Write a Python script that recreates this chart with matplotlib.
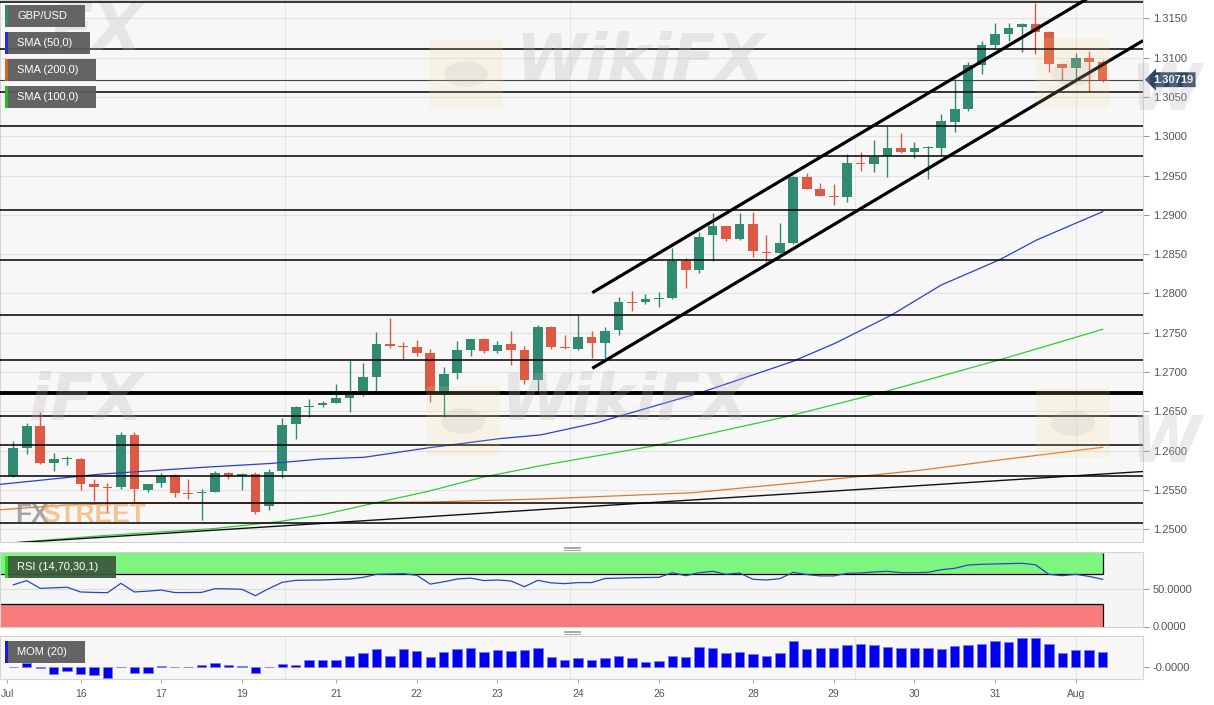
import matplotlib
matplotlib.use("Agg")
import matplotlib.pyplot as plt
from matplotlib.patches import Rectangle, FancyBboxPatch
from matplotlib.lines import Line2D
import matplotlib.transforms as mtransforms
import numpy as np

plt.rcParams['font.family'] = ['Liberation Sans', 'DejaVu Sans']

# ---------------- data (4h candles, GBP/USD) ----------------
opens = [1.25677, 1.26037, 1.26317, 1.25846, 1.25889, 1.25893, 1.25575, 1.25541, 1.25533, 1.26199,
         1.25499, 1.25584, 1.25690, 1.25461, 1.25461, 1.25477, 1.25719, 1.25677, 1.25702, 1.25295,
         1.25744, 1.26338, 1.26559, 1.26576, 1.26609, 1.26665, 1.26749, 1.26933, 1.27353, 1.27335,
         1.27322, 1.27238, 1.26729, 1.26984, 1.27280, 1.27416, 1.27271, 1.27353, 1.27280, 1.26898,
         1.27576, 1.27322, 1.27293, 1.27449, 1.27373, 1.27534, 1.27894, 1.27887, 1.27929, 1.27945,
         1.28412, 1.28298, 1.28737, 1.28854, 1.28692, 1.28879, 1.28531, 1.28510, 1.28638, 1.29485,
         1.29325, 1.29239, 1.29223, 1.29663, 1.29646, 1.29748, 1.29856, 1.29793, 1.29850, 1.29856,
         1.30185, 1.30346, 1.30906, 1.31161, 1.31300, 1.31393, 1.31428, 1.31330, 1.30915, 1.30872,
         1.30999, 1.30940]
highs = [1.26126, 1.26355, 1.26487, 1.25966, 1.25931, 1.25906, 1.25635, 1.25592, 1.26241, 1.26233,
         1.25581, 1.25711, 1.25696, 1.25635, 1.25508, 1.25741, 1.25732, 1.25711, 1.25728, 1.25766,
         1.26411, 1.26568, 1.26653, 1.26631, 1.26844, 1.27162, 1.27111, 1.27513, 1.27683, 1.27386,
         1.27407, 1.27289, 1.27068, 1.27398, 1.27426, 1.27429, 1.27398, 1.27526, 1.27335, 1.27598,
         1.27585, 1.27467, 1.27725, 1.27526, 1.27569, 1.27950, 1.28034, 1.27989, 1.28014, 1.28581,
         1.28454, 1.28777, 1.29029, 1.28861, 1.29027, 1.29040, 1.28743, 1.28892, 1.29494, 1.29528,
         1.29401, 1.29388, 1.29770, 1.29795, 1.29952, 1.30134, 1.30047, 1.29920, 1.29875, 1.30279,
         1.30728, 1.30948, 1.31211, 1.31437, 1.31444, 1.31444, 1.31699, 1.31339, 1.30922, 1.31062,
         1.31084, 1.30970]
lows = [1.25668, 1.25957, 1.25830, 1.25744, 1.25817, 1.25499, 1.25363, 1.25202, 1.25508, 1.25350,
        1.25473, 1.25541, 1.25406, 1.25380, 1.25117, 1.25467, 1.25635, 1.25499, 1.25193, 1.25244,
        1.25648, 1.26144, 1.26424, 1.26551, 1.26602, 1.26495, 1.26695, 1.26749, 1.27309, 1.27162,
        1.27204, 1.26622, 1.26431, 1.26915, 1.27207, 1.27238, 1.27238, 1.27089, 1.26847, 1.26729,
        1.27293, 1.27293, 1.27286, 1.27182, 1.27174, 1.27471, 1.27776, 1.27861, 1.27823, 1.27935,
        1.28065, 1.28256, 1.28412, 1.28671, 1.28680, 1.28467, 1.28403, 1.28501, 1.28629, 1.29322,
        1.29235, 1.29125, 1.29159, 1.29561, 1.29548, 1.29485, 1.29786, 1.29725, 1.29453, 1.29767,
        1.30057, 1.30321, 1.30792, 1.31119, 1.31215, 1.31068, 1.31046, 1.30821, 1.30715, 1.30715,
        1.30566, 1.30686]
closes = [1.26029, 1.26317, 1.25846, 1.25889, 1.25910, 1.25579, 1.25541, 1.25528, 1.26199, 1.25508,
          1.25575, 1.25681, 1.25457, 1.25448, 1.25477, 1.25719, 1.25677, 1.25702, 1.25219, 1.25732,
          1.26326, 1.26559, 1.26568, 1.26602, 1.26665, 1.26707, 1.26933, 1.27353, 1.27335, 1.27322,
          1.27238, 1.26737, 1.26975, 1.27280, 1.27416, 1.27271, 1.27344, 1.27280, 1.26898, 1.27576,
          1.27322, 1.27302, 1.27449, 1.27373, 1.27526, 1.27894, 1.27882, 1.27929, 1.27941, 1.28416,
          1.28298, 1.28721, 1.28854, 1.28692, 1.28879, 1.28540, 1.28510, 1.28638, 1.29485, 1.29328,
          1.29243, 1.29223, 1.29655, 1.29650, 1.29739, 1.29854, 1.29793, 1.29846, 1.29863, 1.30190,
          1.30346, 1.30906, 1.31161, 1.31300, 1.31373, 1.31428, 1.31330, 1.30919, 1.30872, 1.30999,
          1.30940, 1.30719]
last_price = 1.30719

sma50_idx = [-1, 6.45, 13.9, 19.2, 22.9, 26.1, 30.9, 36.2, 39.2, 43.4, 51.1, 57.9, 61.1, 65.3, 69.0, 73.3, 76.1, 81.0]
sma50 = [1.25570, 1.25700, 1.25785, 1.25837, 1.25893, 1.25915, 1.26036, 1.26153, 1.26199, 1.26355,
         1.26737, 1.27131, 1.27365, 1.27725, 1.28107, 1.28425, 1.28680, 1.29040]
sma100_idx = [-1, 7, 15, 19.7, 22.9, 26.9, 30.9, 34.8, 39.2, 47.7, 57.7, 64.8, 73.3, 81.0]
sma100 = [1.24815, 1.24922, 1.25009, 1.25095, 1.25181, 1.25333, 1.25484, 1.25657, 1.25808, 1.26062,
          1.26440, 1.26749, 1.27153, 1.27543]
sma200_idx = [-1, 4.3, 9.6, 20.3, 30.9, 39.2, 50.5, 59.1, 67.6, 73.3, 81.0]
sma200 = [1.25247, 1.25312, 1.25333, 1.25333, 1.25345, 1.25384, 1.25464, 1.25604, 1.25753, 1.25880, 1.26042]

long_trend_idx = [-0.99, 84.0]
long_trend = [1.24815, 1.25734]
channel_idx = [43.05, 84.0]
channel_upper = [1.28009, 1.32171]
channel_lower = [1.27047, 1.31216]

levels = [1.31710, 1.31106, 1.30559, 1.30134, 1.29748, 1.29057, 1.28425, 1.27726, 1.27150,
          1.26437, 1.26068, 1.25675, 1.25330, 1.25075]
major_level = 1.26730

rsi = [56, 61.6, 51.3, 52, 52.7, 46.4, 45.8, 45.4, 58, 46.4,
       47.5, 49, 45.6, 45.6, 45.8, 50.8, 50.5, 50, 41.4, 51,
       59.4, 62, 62.3, 62.5, 63.3, 63.8, 66, 70.1, 70.5, 71,
       68.8, 57, 60, 63.8, 65, 61.7, 62.5, 61.2, 53.5, 62,
       58.6, 57.6, 59, 59, 64.5, 65, 65.5, 65.8, 66, 72.3,
       68.3, 72.3, 74.2, 70.1, 71.9, 63.4, 62.5, 64.3, 72.8, 69.8,
       68, 68, 71.4, 71.9, 73.3, 74.2, 72.3, 72.3, 72.8, 76.3,
       78.2, 82.6, 83.6, 84, 84.5, 84.9, 83, 70.1, 68.3, 70.1,
       67.3, 63.4]

mom_pips = [4, 36, -3, -60, -30, -60, -69, -93, 2, -48,
            -48, 9, 3, 3, 24, 36, 21, 15, -48, 3,
            27, 21, 66, 66, 69, 105, 126, 165, 102, 168,
            150, 96, 138, 168, 177, 141, 153, 144, 159, 171,
            90, 66, 81, 66, 81, 105, 87, 51, 54, 102,
            96, 183, 171, 129, 135, 117, 105, 126, 240, 162,
            177, 177, 204, 210, 201, 180, 177, 177, 177, 165,
            192, 201, 213, 240, 231, 267, 261, 213, 126, 156,
            156, 138]

date_ticks = [-0.47, 5, 11, 17, 24, 30, 36, 42, 48, 55, 61, 67, 73, 79]
date_labels = ['Jul', '16', '17', '19', '21', '22', '23', '24', '26', '28', '29', '30', '31', 'Aug']
vgrid_idx = [20.2, 41.4, 62.6, 79.0]
price_ticks = [1.2500, 1.2550, 1.2600, 1.2650, 1.2700, 1.2750, 1.2800, 1.2850, 1.2900,
               1.2950, 1.3000, 1.3050, 1.3100, 1.3150]

# ---------------- styling ----------------
W, H = 1214, 705
UP = '#318a72'
DN = '#dc5a44'
TXT = '#555555'
XL = (-0.99, 84.0)

fig = plt.figure(figsize=(W / 100, H / 100), dpi=100)
fig.patch.set_facecolor('white')


def ax_rect(x0, y0, x1, y1):
    return [x0 / W, 1 - y1 / H, (x1 - x0) / W, (y1 - y0) / H]


ax = fig.add_axes(ax_rect(0, 0, 1143, 542))
ax_rsi = fig.add_axes(ax_rect(0, 552, 1143, 626.5))
ax_mom = fig.add_axes(ax_rect(0, 636, 1143, 679))

for a in (ax, ax_rsi, ax_mom):
    a.set_xlim(*XL)
    a.set_facecolor('#f7f7f7')
    for s in a.spines.values():
        s.set_color('#d4d4d4')
        s.set_linewidth(0.8)
    a.yaxis.tick_right()
    a.tick_params(axis='y', colors='#9a9a9a', labelcolor=TXT, labelsize=8, length=4, pad=3)
    for v in vgrid_idx:
        a.axvline(v, color='#e6e6e6', lw=0.8, zorder=0.5)

# ---------------- main price panel ----------------
ax.set_ylim(1.24837, 1.31733)
ax.set_yticks(price_ticks)
ax.set_yticklabels(['%.4f' % p for p in price_ticks])
ax.set_xticks([])
for p in price_ticks:
    ax.axhline(p, color='#e3e3e3', lw=0.8, zorder=0.6)

n = len(closes)
xs = np.arange(n)
for i in range(n):
    o, h, l, c = opens[i], highs[i], lows[i], closes[i]
    col = UP if c >= o else DN
    ax.vlines(i, l, h, color=col, lw=1.0, zorder=2)
    body = max(abs(c - o), 0.00008)
    ax.bar(i, body, bottom=min(o, c), width=0.72, color=col, zorder=2.1, linewidth=0)

ax.plot(sma200_idx, sma200, color='#e07b28', lw=0.9, zorder=3)
ax.plot(sma100_idx, sma100, color='#33cc33', lw=0.9, zorder=3)
ax.plot(sma50_idx, sma50, color='#2a3fd6', lw=0.9, zorder=3)
ax.plot(long_trend_idx, long_trend, color='#111111', lw=1.0, zorder=3)

for lv in levels:
    ax.axhline(lv, color='black', lw=1.1, zorder=3.2)
ax.axhline(major_level, color='black', lw=2.8, zorder=3.2)
ax.axhline(last_price, color='#34495e', lw=0.8, zorder=3.1)

ax.plot(channel_idx, channel_upper, color='black', lw=2.3, zorder=3.5, solid_capstyle='butt')
ax.plot(channel_idx, channel_lower, color='black', lw=2.3, zorder=3.5, solid_capstyle='butt')

trans = mtransforms.blended_transform_factory(ax.transAxes, ax.transData)
ax.text(1.0 + 10 / 1143, last_price, '%.5f' % last_price, transform=trans, va='center', ha='left',
        color='white', fontsize=8, fontweight='bold',
        bbox=dict(boxstyle='larrow,pad=0.22', fc='#2c4866', ec='none'), zorder=6)

# ---------------- RSI panel ----------------
ax_rsi.set_ylim(0, 100.1)
ax_rsi.set_facecolor('#f5f5f5')
ax_rsi.set_xticks([])
ax_rsi.set_yticks([0, 50])
ax_rsi.set_yticklabels(['0.0000', '50.0000'])
ax_rsi.axhline(50, color='#dddddd', lw=0.8, zorder=0.6)
band_x = [XL[0], n - 1]
ax_rsi.fill_between(band_x, 70, 98.8, color='#7ef57e', zorder=1, lw=0)
ax_rsi.fill_between(band_x, 0, 30, color='#f77b7b', zorder=1, lw=0)
ax_rsi.hlines([70, 30], XL[0], n - 1, color='black', lw=0.9, zorder=2)
ax_rsi.vlines(n - 1, 70, 98.8, color='black', lw=0.9, zorder=2)
ax_rsi.vlines(n - 1, 0, 30, color='black', lw=0.9, zorder=2)
ax_rsi.plot(xs, rsi, color='#2846c8', lw=0.9, zorder=3)

# ---------------- Momentum panel ----------------
mom = np.array(mom_pips) / 10000.0
ax_mom.set_ylim(-0.0105, 0.0282)
ax_mom.set_yticks([0])
ax_mom.set_yticklabels(['-0.0000'])
ax_mom.bar(xs, mom, width=0.7, color='#0000ee', edgecolor='#7a7aff', linewidth=0.6, zorder=2)
ax_mom.set_xticks(date_ticks)
ax_mom.set_xticklabels(date_labels)
ax_mom.tick_params(axis='x', colors='#aaaaaa', labelcolor=TXT, labelsize=7.5, length=3, pad=4)

# ---------------- overlays (figure level) ----------------
def px(x, y):
    return x / W, 1 - y / H


def box(x0, y0, x1, y1, **kw):
    fig.add_artist(Rectangle((x0 / W, 1 - y1 / H), (x1 - x0) / W, (y1 - y0) / H,
                             transform=fig.transFigure, **kw))


# watermarks (only the visible parts)
wm = dict(fontsize=46, color='#b9b0b0', alpha=0.26, fontweight='bold', style='italic',
          family=['DejaVu Sans'], zorder=4)
for (x, y, ha, s) in [(143, 50, 'right', 'FX'), (143, 420, 'right', 'iFX'),
                      (515, 80, 'left', 'WikiFX'), (500, 420, 'left', 'WikiFX'),
                      (1130, 110, 'left', 'W'), (1130, 462, 'left', 'W')]:
    fig.text(*px(x, y), s, ha=ha, va='baseline', **wm)
for (x0, y0) in [(430, 38), (427, 385), (1037, 37), (1037, 387)]:
    fig.add_artist(FancyBboxPatch(px(x0 + 4, y0 + 68), 64 / W, 64 / H,
                                  boxstyle='round,pad=0.004', transform=fig.transFigure,
                                  fc='#f6d98c', ec='none', alpha=0.16, zorder=4))
    fig.add_artist(plt.Circle(px(x0 + 36, y0 + 36), 22 / W, transform=fig.transFigure,
                              fc='#a89a9a', ec='none', alpha=0.13, zorder=4))

# FXSTREET logo
fx = dict(fontsize=19, fontweight='bold', family=['Liberation Sans Narrow', 'Liberation Sans'],
          va='baseline', ha='left', alpha=0.75, zorder=4)
fig.text(*px(15, 522), 'FX', color='#8a8a8a', **fx)
fig.text(*px(42, 522), 'STREET', color='#f2b46e', **fx)

# legend boxes
legend_items = [('GBP/USD', '#2e8b6e', 5, 85, 5, 27),
                ('SMA (50,0)', '#2233cc', 5, 90, 32, 54),
                ('SMA (200,0)', '#d2691e', 5, 96, 59, 81),
                ('SMA (100,0)', '#22bb22', 5, 96, 86, 108)]
for label, col, x0, x1, y0, y1 in legend_items:
    box(x0, y0, x1, y1, fc='#5c5c5c', ec='none', alpha=0.95, zorder=7)
    box(x0, y0, x0 + 3, y1, fc=col, ec='none', zorder=8)
    fig.text(*px(17, (y0 + y1) / 2), label, color='white', fontsize=8, va='center', ha='left', zorder=9)

box(5, 556, 116, 578, fc='#3b5b3b', ec='none', alpha=0.95, zorder=7)
box(5, 556, 8, 578, fc='#22dd22', ec='none', zorder=8)
fig.text(*px(17, 567), 'RSI (14,70,30,1)', color='white', fontsize=8, va='center', ha='left', zorder=9)

box(5, 641, 85, 663, fc='#5c5c5c', ec='none', alpha=0.95, zorder=7)
box(5, 641, 8, 663, fc='#1a1adc', ec='none', zorder=8)
fig.text(*px(17, 652), 'MOM (20)', color='white', fontsize=8, va='center', ha='left', zorder=9)

# panel resize handles
for yc in (548, 632):
    for dy in (-1.5, 0, 1.5):
        fig.add_artist(Line2D([564 / W, 580 / W], [1 - (yc + dy) / H] * 2, transform=fig.transFigure,
                              color='#9a9a9a', lw=0.6))

fig.savefig('out.png', dpi=100, facecolor='white')
